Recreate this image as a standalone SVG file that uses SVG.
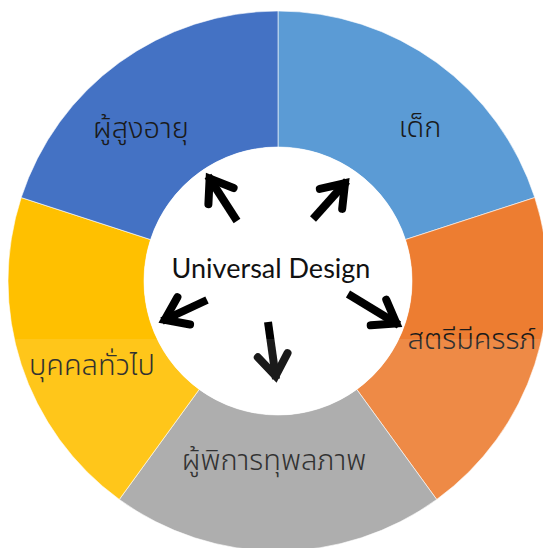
<svg xmlns="http://www.w3.org/2000/svg" width="543" height="548" viewBox="0 0 543 548">
  <style>
    .seg { stroke: #ffffff; stroke-width: 1; stroke-opacity: 0.6; }
    .th { font-family: "Noto Sans Thai", "Noto Sans Thai UI", "Leelawadee UI", Tahoma, "DejaVu Sans", sans-serif; font-size: 29px; font-weight: 300; fill: #1a1a1a; text-anchor: middle; }
    .hub { font-family: Lato, "Open Sans", "Liberation Sans", sans-serif; font-size: 27px; fill: #111111; text-anchor: middle; }
    .arrow { fill: none; stroke: #000000; stroke-width: 8; }
  </style>
  <defs>
    <marker id="chevron" markerUnits="userSpaceOnUse" markerWidth="50" markerHeight="50" refX="0" refY="0" viewBox="-35 -25 50 50" orient="auto" overflow="visible">
      <path d="M -24 -15 L -3 0 L -24 15" fill="none" stroke="#000000" stroke-width="8" stroke-linecap="round" stroke-linejoin="miter"/>
    </marker>
  </defs>

  <rect width="543" height="548" fill="#ffffff"/>

  <!-- ring segments, 72 degrees each, clockwise from 12 o'clock -->
  <g id="child">
    <path class="seg" fill="#5B9BD5" d="M 278 11 A 270 270 0 0 1 534.79 197.56 L 405.44 239.59 A 134 134 0 0 0 278 147 Z"/>
    <text class="th" x="420" y="137">เด็ก</text>
  </g>
  <g id="pregnant">
    <path class="seg" fill="#ED7D31" d="M 534.79 197.56 A 270 270 0 0 1 436.70 499.44 L 356.76 389.41 A 134 134 0 0 0 405.44 239.59 Z"/>
    <text class="th" x="472" y="349">สตรีมีครรภ์</text>
  </g>
  <g id="disabled">
    <path class="seg" fill="#A5A5A5" d="M 436.70 499.44 A 270 270 0 0 1 119.30 499.44 L 199.24 389.41 A 134 134 0 0 0 356.76 389.41 Z"/>
    <text class="th" x="274" y="470">ผู้พิการทุพลภาพ</text>
  </g>
  <g id="general">
    <path class="seg" fill="#FFC000" d="M 119.30 499.44 A 270 270 0 0 1 21.21 197.56 L 150.56 239.59 A 134 134 0 0 0 199.24 389.41 Z"/>
    <text class="th" x="92" y="375">บุคคลทั่วไป</text>
  </g>
  <g id="elderly">
    <path class="seg" fill="#4472C4" d="M 21.21 197.56 A 270 270 0 0 1 278 11 L 278 147 A 134 134 0 0 0 150.56 239.59 Z"/>
    <text class="th" x="141" y="138">ผู้สูงอายุ</text>
  </g>

  <!-- hub -->
  <g id="universal-design">
    <circle cx="278" cy="281" r="134" fill="#ffffff"/>
    <text class="hub" x="271" y="278">Universal Design</text>
  </g>

  <!-- spokes from the hub to each group -->
  <g id="connectors">
    <line class="arrow" x1="237" y1="221" x2="208" y2="176" marker-end="url(#chevron)"/>
    <line class="arrow" x1="313" y1="219" x2="347" y2="181" marker-end="url(#chevron)"/>
    <line class="arrow" x1="207" y1="300" x2="162" y2="321" marker-end="url(#chevron)"/>
    <line class="arrow" x1="268" y1="322" x2="276" y2="379" marker-end="url(#chevron)"/>
    <line class="arrow" x1="348" y1="294" x2="399" y2="325" marker-end="url(#chevron)"/>
  </g>

  <!-- faint light wash over the lower part -->
  <rect x="0" y="339" width="543" height="209" fill="#ffffff" opacity="0.1"/>
</svg>
